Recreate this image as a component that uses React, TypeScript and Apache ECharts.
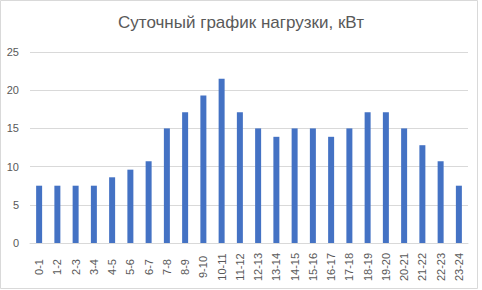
import React, { useEffect, useRef } from "react";
import * as echarts from "echarts";

const categories = [
  "0-1", "1-2", "2-3", "3-4", "4-5", "5-6", "6-7", "7-8", "8-9", "9-10",
  "10-11", "11-12", "12-13", "13-14", "14-15", "15-16", "16-17", "17-18",
  "18-19", "19-20", "20-21", "21-22", "22-23", "23-24",
];
const loadKw = [
  7.5, 7.5, 7.5, 7.5, 8.6, 9.6, 10.7, 15, 17.1, 19.3,
  21.5, 17.1, 15, 13.9, 15, 15, 13.9, 15,
  17.1, 17.1, 15, 12.8, 10.7, 7.5,
];
const titleText = "Суточный график нагрузки, кВт";

export default function App() {
  const ref = useRef<HTMLDivElement>(null);
  useEffect(() => {
    if (!ref.current) return;
    const chart = echarts.init(ref.current, undefined, { renderer: "svg" });
    const font = "'Liberation Sans', Arial, sans-serif";
    chart.setOption({
      animation: false,
      backgroundColor: "#ffffff",
      textStyle: { fontFamily: font },
      title: {
        text: titleText,
        left: "center",
        top: 9,
        textStyle: { fontFamily: font, fontSize: 17, fontWeight: "normal", color: "#595959" },
      },
      graphic: [
        {
          type: "rect",
          shape: { x: 0.5, y: 0.5, width: 477, height: 288 },
          style: { fill: "none", stroke: "#d9d9d9", lineWidth: 1 },
          silent: true,
        },
      ],
      grid: { left: 30, right: 14, top: 52, bottom: 47, containLabel: false },
      xAxis: {
        type: "category",
        data: categories,
        axisLine: { show: true, lineStyle: { color: "#d9d9d9", width: 1 } },
        axisTick: { show: false },
        axisLabel: {
          rotate: 90,
          interval: 0,
          align: "center",
          verticalAlign: "middle",
          margin: 24,
          fontSize: 11,
          color: "#595959",
          fontFamily: font,
        },
      },
      yAxis: {
        type: "value",
        min: 0,
        max: 25,
        interval: 5,
        axisLine: { show: false },
        axisTick: { show: false },
        splitLine: { lineStyle: { color: "#d9d9d9", width: 1 } },
        axisLabel: { fontSize: 11, color: "#595959", margin: 11, fontFamily: font },
      },
      series: [
        {
          type: "bar",
          data: loadKw,
          barWidth: 6,
          itemStyle: { color: "#4472C4" },
        },
      ],
    });
    return () => chart.dispose();
  }, []);
  return (
    <div
      ref={ref}
      style={{ position: "fixed", left: 0, top: 0, width: 482, height: 290 }}
    />
  );
}
